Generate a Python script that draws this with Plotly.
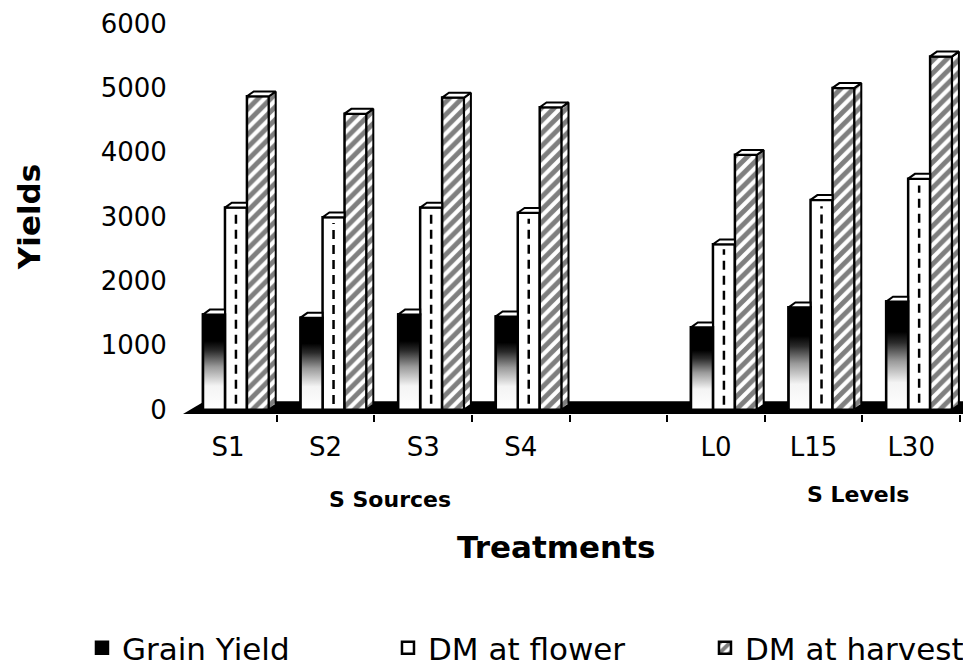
import plotly.graph_objects as go

# ---------------- data ----------------
categories = ["S1", "S2", "S3", "S4", "L0", "L15", "L30"]
cat_pos = [0, 1, 2, 3, 5, 6, 7]          # one empty slot between the two treatment groups
grain_yield = [1480, 1430, 1480, 1450, 1280, 1590, 1680]
dm_flower = [3140, 2990, 3140, 3060, 2570, 3260, 3590]
dm_harvest = [4870, 4600, 4850, 4700, 3960, 5000, 5490]
y_ticks = [0, 1000, 2000, 3000, 4000, 5000, 6000]
series_names = ["Grain Yield", "DM at flower", "DM at harvest"]
group_labels = ["S Sources", "S Levels"]

# ---------------- style constants ----------------
FONT = "DejaVu Sans"
W = 0.225                      # bar front width (axis units)
OFFS = [-0.256, -0.031, 0.194]  # bar offsets inside a category slot
DX, DY = 0.07, 75              # pseudo-3D depth
LINE = dict(color="black", width=2.5)
GRAD = [[0, "#ffffff"], [0.25, "#f4f4f4"], [0.45, "#9a9a9a"],
        [0.62, "#2a2a2a"], [0.72, "#000000"], [1, "#000000"]]
HATCH = dict(shape="/", fgcolor="black", bgcolor="white", size=9, solidity=0.55)

fig = go.Figure()

fig.add_bar(name=series_names[0], x=cat_pos, y=grain_yield, width=W, offset=OFFS[0],
            marker=dict(color="black", line=LINE), legendwidth=261, hoverinfo="skip")
fig.add_bar(name=series_names[1], x=cat_pos, y=dm_flower, width=W, offset=OFFS[1],
            marker=dict(color="white", line=LINE), legendwidth=272, hoverinfo="skip")
fig.add_bar(name=series_names[2], x=cat_pos, y=dm_harvest, width=W, offset=OFFS[2],
            marker=dict(color="white", line=LINE, pattern=HATCH), legendwidth=225,
            hoverinfo="skip")

# gradient overlay on grain-yield bars (computed from the data)
for p, v in zip(cat_pos, grain_yield):
    x0 = p + OFFS[0]
    x1 = x0 + W
    fig.add_scatter(x=[x0, x1, x1, x0, x0], y=[0, 0, v, v, 0], mode="lines",
                    fill="toself", fillgradient=dict(type="vertical", colorscale=GRAD),
                    line=LINE, showlegend=False, hoverinfo="skip")

# dashed centre line on DM-at-flower bars
dx_, dy_ = [], []
for p, v in zip(cat_pos, dm_flower):
    xc = p + OFFS[1] + W / 2
    dx_ += [xc, xc, None]
    dy_ += [v * 0.03, v * 0.97, None]
fig.add_scatter(x=dx_, y=dy_, mode="lines", line=dict(color="black", width=2.5, dash="9px,6px"),
                showlegend=False, hoverinfo="skip")

# side faces of harvest bars
sx, sy = [], []
for p, v in zip(cat_pos, dm_harvest):
    x1 = p + OFFS[2] + W
    sx += [x1, x1, x1 + DX, x1 + DX, x1, None]
    sy += [0, v, v + DY, DY, 0, None]
fig.add_scatter(x=sx, y=sy, mode="lines", fill="toself", fillpattern=HATCH,
                fillcolor="white", line=dict(color="black", width=2),
                showlegend=False, hoverinfo="skip")

# top faces
tx, ty = [], []
for k, vals in enumerate([grain_yield, dm_flower, dm_harvest]):
    for p, v in zip(cat_pos, vals):
        x0 = p + OFFS[k]
        x1 = x0 + W
        xr = x1 + DX if k == 2 else x1
        tx += [x0, x0 + DX, xr, x1, x0, None]
        ty += [v, v + DY, v + DY, v, v, None]
fig.add_scatter(x=tx, y=ty, mode="lines", fill="toself", fillcolor="white",
                line=dict(color="black", width=2), showlegend=False, hoverinfo="skip")

# floor slab
fig.add_shape(type="path", xref="x", yref="y",
              path="M -0.461,-67 L 7.613,-67 L 7.613,130 L -0.24,130 Z",
              fillcolor="black", line=dict(width=0), layer="below")

# the page body has an 8px default margin, so the figure is drawn 8px smaller/offset
fig.update_layout(
    width=963, height=659,
    margin=dict(l=175, r=0, t=13, b=253, autoexpand=False),
    paper_bgcolor="white", plot_bgcolor="white",
    font=dict(family=FONT, color="black"),
    barmode="group",
    showlegend=True,
    legend=dict(orientation="h", x=-0.1282, xanchor="left", y=-0.5954, yanchor="middle",
                font=dict(size=31, family=FONT, color="black"), traceorder="normal",
                bgcolor="rgba(0,0,0,0)"),
    xaxis=dict(range=[-0.461, 7.613], tickmode="array", tickvals=cat_pos, ticktext=categories,
               ticks="outside", ticklen=10, tickcolor="rgba(0,0,0,0)",
               tickfont=dict(size=26, family=FONT, color="black"),
               showgrid=False, zeroline=False, showline=False,
               minor=dict(tickmode="array", tickvals=[0.5, 1.5, 2.5, 3.5, 4.5, 5.5, 6.5, 7.5],
                          ticks="outside", ticklen=7, tickcolor="black", tickwidth=1.5)),
    yaxis=dict(range=[-67, 6040], tickmode="array", tickvals=y_ticks,
               ticks="outside", ticklen=10, tickcolor="rgba(0,0,0,0)",
               tickfont=dict(size=26, family=FONT, color="black"),
               showgrid=False, zeroline=False, showline=False),
)

annos = [
    dict(text="Yields", xref="paper", yref="paper", x=-0.1954, y=0.501, textangle=-90,
         font=dict(size=31, weight="bold")),
    dict(text=group_labels[0], xref="x", yref="paper", x=1.66, y=-0.2188,
         font=dict(size=22, weight="bold")),
    dict(text=group_labels[1], xref="x", yref="paper", x=6.455, y=-0.206,
         font=dict(size=22, weight="bold")),
    dict(text="Treatments", xref="x", yref="paper", x=3.36, y=-0.338,
         font=dict(size=31, weight="bold")),
]
for a in annos:
    a.update(showarrow=False, xanchor="center", yanchor="middle")
    a["font"].update(family=FONT, color="black")
    fig.add_annotation(**a)

fig.write_html("out.html")
